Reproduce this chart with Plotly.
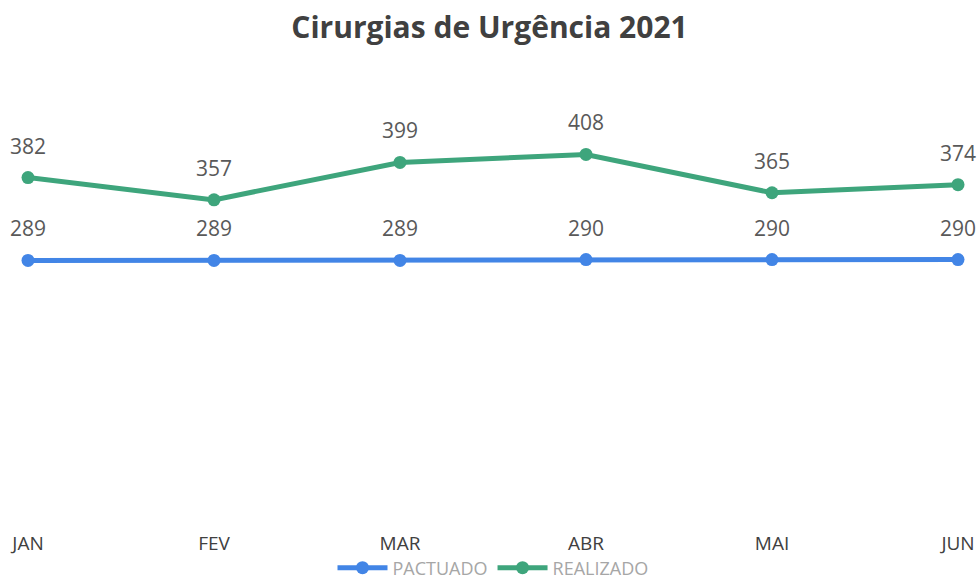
import plotly.graph_objects as go

months = ["JAN", "FEV", "MAR", "ABR", "MAI", "JUN"]
pactuado = [289, 289, 289, 290, 290, 290]
realizado = [382, 357, 399, 408, 365, 374]

BLUE = "#4285e6"
GREEN = "#3ea57c"

fig = go.Figure()
fig.add_trace(go.Scatter(x=months, y=pactuado, name="PACTUADO", mode="lines+markers",
                         line=dict(color=BLUE, width=5), marker=dict(size=13, color=BLUE),
                         cliponaxis=False))
fig.add_trace(go.Scatter(x=months, y=realizado, name="REALIZADO", mode="lines+markers",
                         line=dict(color=GREEN, width=5), marker=dict(size=13, color=GREEN),
                         cliponaxis=False))

for series in (pactuado, realizado):
    for m, v in zip(months, series):
        fig.add_annotation(x=m, y=v, text=str(v), showarrow=False, yshift=32,
                           font=dict(family="Open Sans", size=21, color="#595959"))

fig.update_layout(
    width=979, height=580,
    paper_bgcolor="white", plot_bgcolor="white",
    margin=dict(l=28, r=21, t=117, b=62, autoexpand=False),
    title=dict(text="<b>Cirurgias de Urgência 2021</b>", x=0.5, xanchor="center",
               y=1 - 27 / 580, yanchor="middle",
               font=dict(family="Open Sans", size=30, color="#404040")),
    showlegend=True,
    legend=dict(orientation="h", x=0.5, xanchor="center", yref="container",
                y=1 - 568 / 580, yanchor="middle", bgcolor="rgba(0,0,0,0)",
                font=dict(family="Open Sans", size=18, color="#a6a6a6"),
                itemwidth=50, tracegroupgap=0),
    xaxis=dict(type="category", showgrid=False, zeroline=False, showline=False,
               automargin=False,
               ticks="outside", ticklen=8, tickcolor="rgba(0,0,0,0)",
               tickfont=dict(family="Open Sans", size=19, color="#404040"),
               range=[0, 5]),
    yaxis=dict(visible=False, range=[0, 450], showgrid=False, zeroline=False,
               automargin=False),
)

fig.write_html("out.html", config={"displayModeBar": False},
               post_script="document.body.style.margin='0';document.body.style.overflow='hidden';")
